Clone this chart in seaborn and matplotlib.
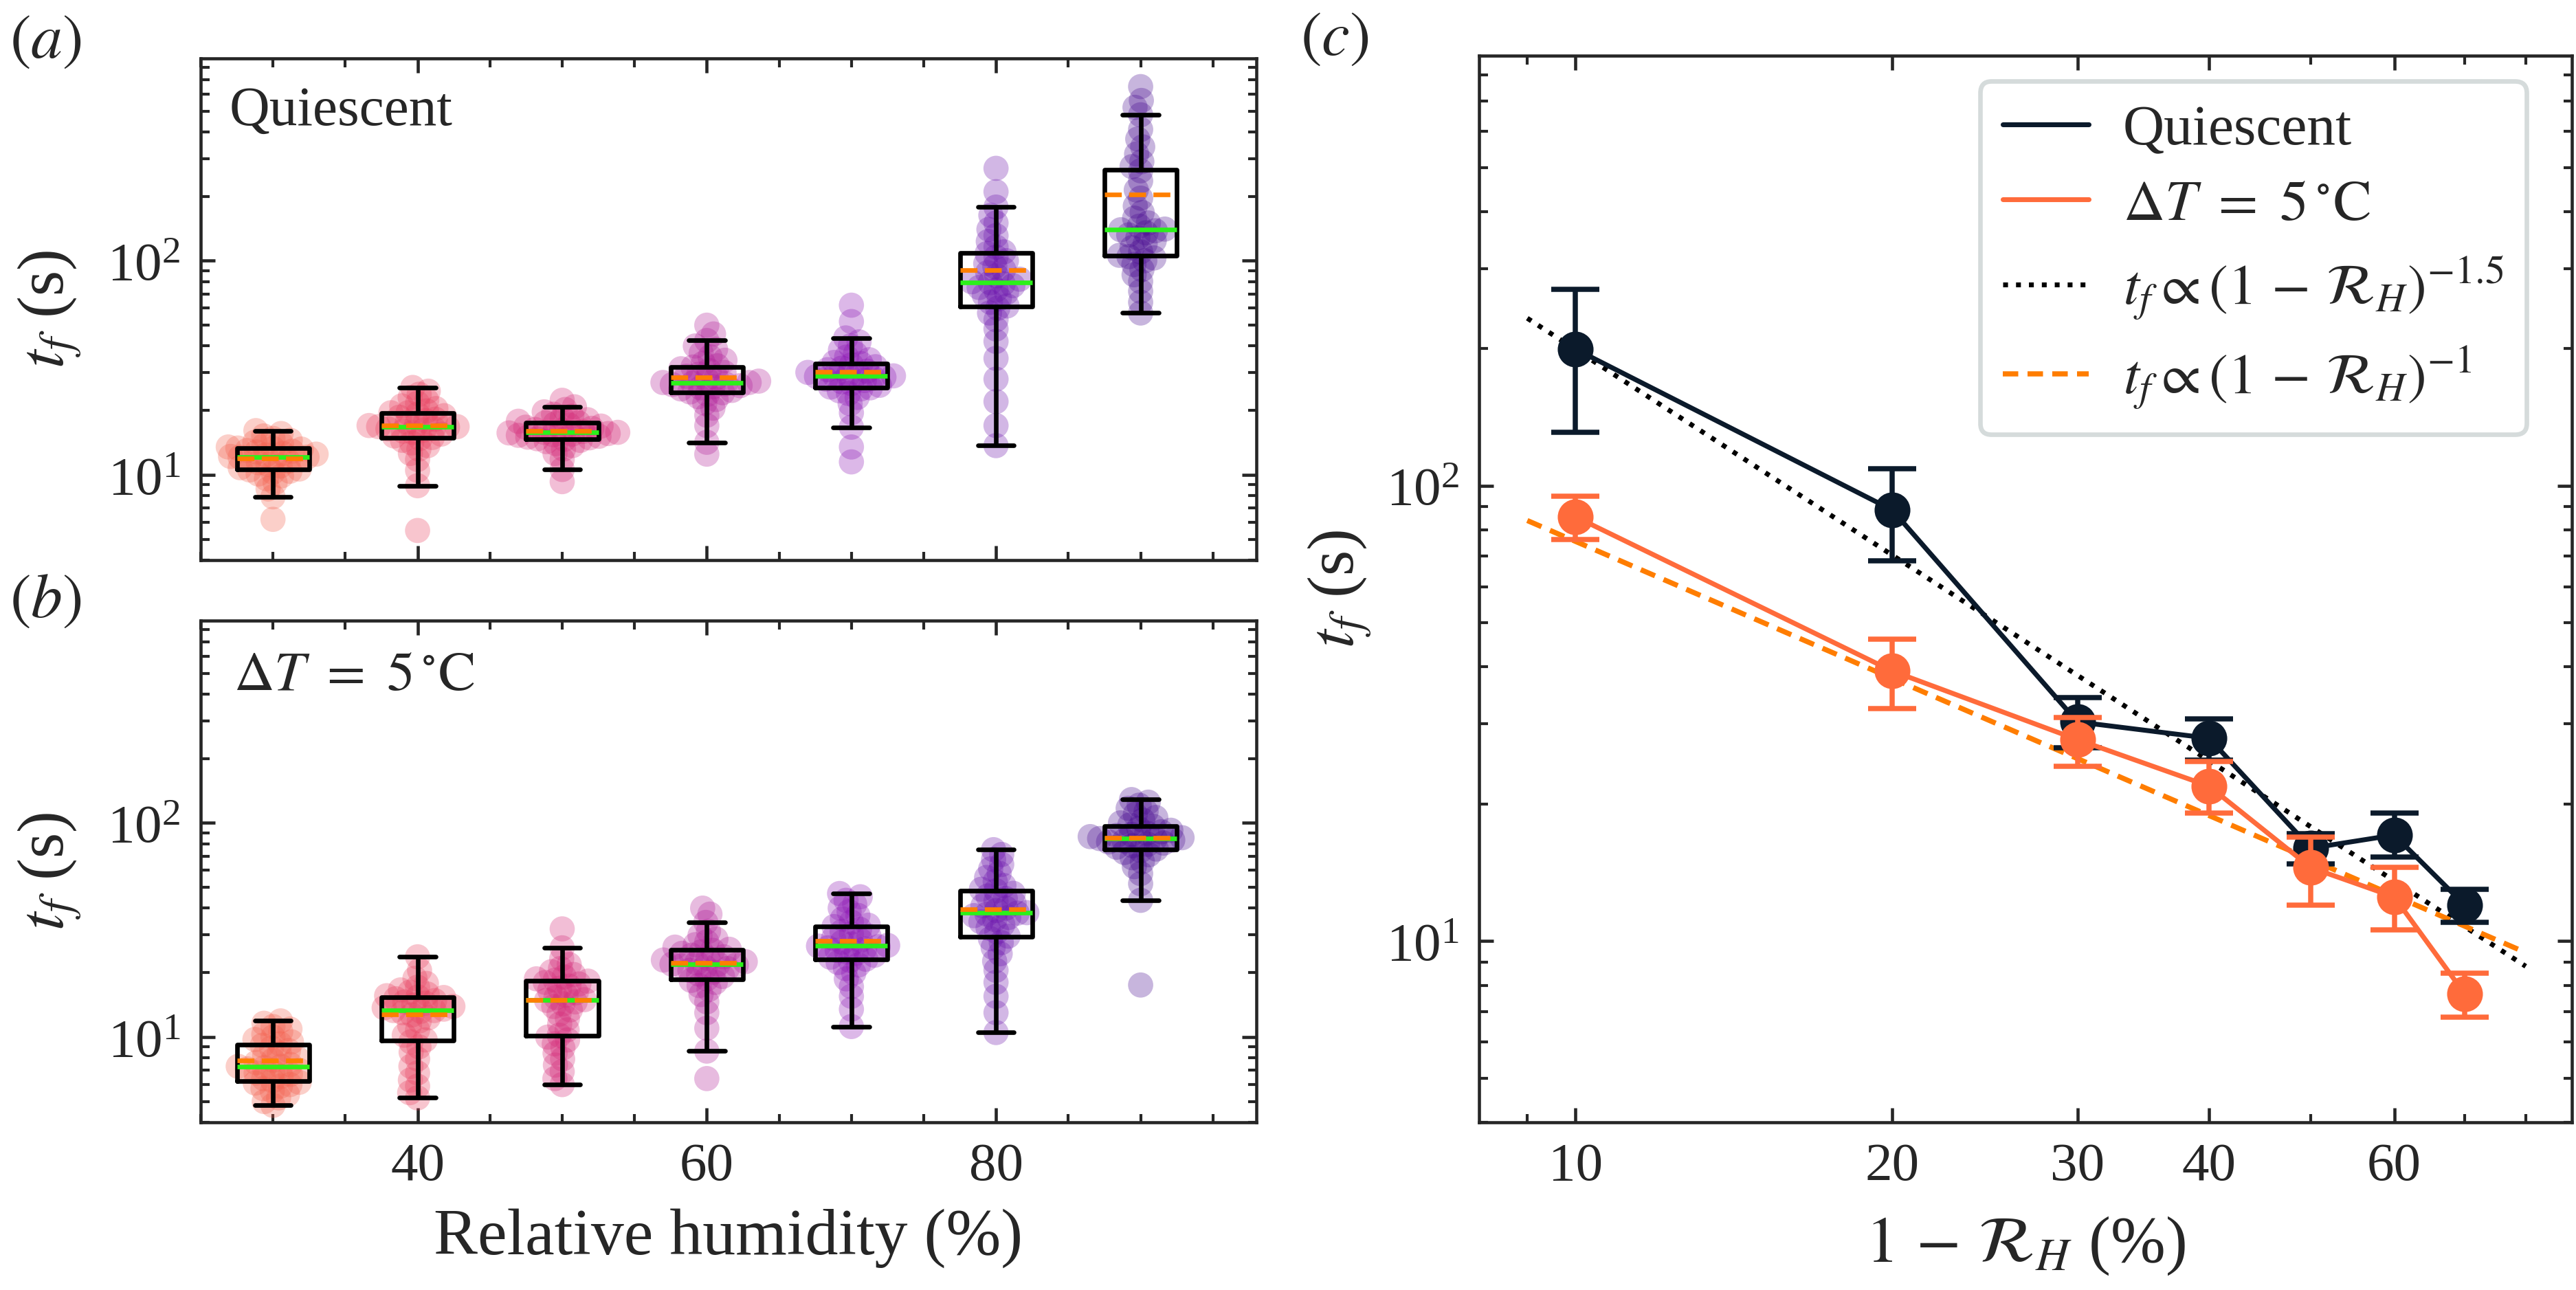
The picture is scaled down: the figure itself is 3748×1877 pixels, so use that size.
import numpy as np
import pandas as pd
import seaborn as sns
import matplotlib.pyplot as plt
from matplotlib.ticker import MultipleLocator, FixedLocator, FixedFormatter, NullFormatter

# relative humidity levels (%) of the box/swarm panels
rh = [30, 40, 50, 60, 70, 80, 90]

# panel (a): freezing time tf (s), quiescent
q30 = [6.2, 7.9, 8.6, 9.2, 9.6, 9.9, 10.1, 10.3, 10.4, 10.55, 10.65, 10.8, 11.0, 11.2, 11.4, 11.6, 11.8, 11.9, 12.0, 12.1,
       12.1, 12.2, 12.4, 12.5, 12.6, 12.8, 12.9, 13.0, 13.2, 13.3, 13.35, 13.5, 13.7, 13.9, 14.2, 14.5, 14.8, 15.2, 15.6, 16.1]
q40 = [5.5, 8.9, 10.5, 11.8, 12.6, 13.2, 13.7, 14.1, 14.5, 14.8, 14.95, 15.2, 15.5, 15.8, 16.0, 16.2, 16.4, 16.5, 16.7, 16.8,
       16.8, 17.0, 17.3, 17.6, 17.9, 18.2, 18.6, 18.9, 19.2, 19.5, 19.5, 19.9, 20.4, 21.0, 21.6, 22.3, 23.0, 23.8, 24.6, 25.6]
q50 = [9.3, 10.6, 11.8, 12.6, 13.2, 13.7, 14.0, 14.3, 14.5, 14.65, 14.75, 14.9, 15.0, 15.15, 15.3, 15.4, 15.5, 15.6, 15.7, 15.8,
       15.8, 15.95, 16.1, 16.3, 16.5, 16.7, 16.9, 17.1, 17.3, 17.5, 17.5, 17.8, 18.1, 18.4, 18.8, 19.2, 19.7, 20.2, 20.8, 22.3]
q60 = [12.5, 14.2, 17.0, 19.0, 20.5, 21.6, 22.5, 23.2, 23.8, 24.2, 24.4, 24.8, 25.2, 25.5, 25.8, 26.1, 26.4, 26.6, 26.8, 27.0,
       27.0, 27.4, 27.9, 28.4, 28.9, 29.5, 30.1, 30.7, 31.3, 31.9, 32.3, 33.2, 34.3, 35.6, 37.0, 38.6, 40.0, 42.4, 45.5, 50.0]
q70 = [11.5, 13.5, 16.7, 19.5, 21.5, 23.0, 24.0, 24.7, 25.2, 25.5, 25.7, 26.2, 26.7, 27.2, 27.6, 28.0, 28.3, 28.6, 28.8, 29.0,
       29.0, 29.3, 29.7, 30.1, 30.5, 31.0, 31.5, 32.0, 32.6, 33.1, 33.5, 34.5, 35.5, 36.8, 38.3, 40.0, 41.8, 43.6, 52.0, 62.0]
q80 = [13.7, 17.0, 22.0, 28.0, 35.0, 42.0, 48.0, 53.0, 57.0, 60.0, 61.5, 64.0, 66.5, 69.0, 71.0, 73.0, 75.0, 76.5, 78.0, 79.0,
       79.8, 82.0, 85.0, 88.0, 91.0, 94.0, 97.0, 100.0, 104.0, 108.0, 110.0, 116.0, 123.0, 131.0, 140.0, 150.0, 163.0, 178.0, 210.0, 270.0]
q90 = [57, 64, 72, 80, 86, 91, 96, 100, 103, 104.5, 106, 110, 115, 120, 124, 128, 132, 135, 138, 139.5,
       140.5, 145, 150, 158, 168, 180, 196, 214, 236, 263, 275, 290, 315, 340, 370, 410, 480, 520, 560, 650]

# panel (b): freezing time tf (s), delta T = 5 C
d30 = [4.8, 5.0, 5.2, 5.4, 5.6, 5.75, 5.9, 6.0, 6.1, 6.15, 6.25, 6.4, 6.55, 6.7, 6.8, 6.9, 7.0, 7.1, 7.2, 7.3,
       7.3, 7.45, 7.6, 7.8, 8.0, 8.2, 8.4, 8.65, 8.9, 9.15, 9.3, 9.5, 9.75, 10.0, 10.3, 10.6, 10.9, 11.2, 11.6, 11.9]
d40 = [5.2, 5.5, 5.9, 6.3, 6.8, 7.3, 7.9, 8.5, 9.0, 9.5, 9.7, 10.2, 10.8, 11.4, 11.9, 12.3, 12.7, 13.0, 13.2, 13.3,
       13.3, 13.5, 13.7, 13.9, 14.1, 14.4, 14.6, 14.8, 15.1, 15.3, 15.4, 15.6, 15.9, 16.2, 16.6, 17.1, 17.8, 18.8, 20.5, 23.7]
d50 = [6.0, 6.4, 6.9, 7.4, 7.9, 8.4, 8.9, 9.3, 9.7, 10.0, 10.2, 10.8, 11.5, 12.2, 12.8, 13.4, 13.9, 14.3, 14.6, 14.85,
       14.95, 15.3, 15.7, 16.1, 16.5, 16.9, 17.3, 17.7, 18.0, 18.25, 18.45, 18.7, 19.1, 19.6, 20.2, 20.9, 21.8, 23.2, 26.1, 32.0]
d60 = [6.4, 8.6, 11.0, 13.0, 14.6, 15.8, 16.7, 17.4, 18.0, 18.4, 18.7, 19.2, 19.7, 20.1, 20.5, 20.9, 21.2, 21.5, 21.7, 21.9,
       21.9, 22.2, 22.5, 22.9, 23.3, 23.7, 24.1, 24.6, 25.0, 25.4, 25.7, 26.3, 27.0, 27.8, 28.7, 29.8, 31.2, 34.3, 37.5, 40.0]
d70 = [11.2, 13.5, 15.5, 17.2, 18.7, 19.9, 20.9, 21.7, 22.3, 22.8, 23.1, 23.6, 24.1, 24.6, 25.0, 25.4, 25.8, 26.1, 26.4, 26.6,
       26.8, 27.2, 27.7, 28.3, 28.9, 29.6, 30.3, 31.1, 31.9, 32.8, 33.3, 34.4, 35.6, 37.0, 38.5, 40.0, 41.7, 43.5, 45.2, 46.8]
d80 = [10.5, 13.0, 15.5, 18.0, 20.5, 22.6, 24.5, 26.2, 27.6, 28.8, 29.6, 31.0, 32.3, 33.5, 34.5, 35.4, 36.2, 36.9, 37.5, 37.9,
       38.1, 39.0, 40.0, 41.0, 42.1, 43.2, 44.4, 45.6, 46.9, 48.2, 49.0, 51.0, 53.2, 55.6, 58.2, 61.0, 64.0, 67.5, 71.2, 75.0]
d90 = [17.5, 43.5, 52.0, 58.0, 62.5, 66.0, 68.8, 71.0, 72.8, 74.3, 75.5, 77.0, 78.3, 79.5, 80.5, 81.5, 82.4, 83.2, 83.9, 84.3,
       84.5, 85.3, 86.3, 87.3, 88.4, 89.6, 90.9, 92.4, 94.2, 96.4, 97.8, 100.0, 103.0, 106.0, 109.5, 113.0, 117.0, 121.0, 125.0, 128.5]

# panel (c): mean tf against 1 - RH, with error bar ends
one_minus_rh = [10, 20, 30, 40, 50, 60, 70]
quies_mean = [199.6, 88.5, 30.3, 27.9, 16.0, 17.1, 12.0]
quies_lo = [131.0, 68.5, 26.6, 25.0, 14.8, 15.3, 11.0]
quies_hi = [270.0, 109.0, 34.3, 30.8, 17.2, 19.1, 13.0]
dt_mean = [85.5, 39.2, 27.7, 21.9, 14.5, 12.5, 7.66]
dt_lo = [76.2, 32.4, 24.2, 19.1, 12.0, 10.6, 6.8]
dt_hi = [94.9, 46.1, 31.0, 24.8, 16.9, 14.5, 8.5]

# power-law guide lines
fit_x = [9.0, 80.0]
coef_15 = 6300.0
coef_1 = 755.0

rh_colors = ['#f4604e', '#e8405f', '#d42a78', '#b01e98', '#8c16b4', '#6a12ac', '#470a90']
navy = '#0b1a2b'
coral = '#ff6b3b'
fit_orange = '#ff7d00'
median_green = '#2cf01a'
mean_orange = '#ff7f00'

sns.set_style('ticks')
plt.rcParams['font.family'] = ['Liberation Serif', 'DejaVu Serif']
plt.rcParams['mathtext.fontset'] = 'stix'
plt.rcParams['axes.linewidth'] = 1.1

fig = plt.figure(figsize=(3748 / 300, 1877 / 300), dpi=300)
ax_a = fig.add_axes([0.0779, 0.5658, 0.4098, 0.3889])
ax_b = fig.add_axes([0.0779, 0.1300, 0.4098, 0.3889])
ax_c = fig.add_axes([0.5742, 0.1300, 0.4242, 0.8268])

palette = dict(zip(rh, rh_colors))
swarm_size = 3.2   # size used to lay out the swarm
dot_size = 8.8     # size the dots are drawn with (they overlap)
dt_label = r'$\Delta T\ =\ 5\,^{\circ}\mathrm{C}$'


def long_df(groups):
    rows = []
    for level, vals in zip(rh, groups):
        rows += [(level, v) for v in vals]
    return pd.DataFrame(rows, columns=['rh', 'tf'])


def box_swarm(ax, df):
    sns.boxplot(data=df, x='rh', y='tf', native_scale=True, width=0.5, fill=False,
                color='black', linewidth=1.6, whis=1.5, showfliers=False,
                showmeans=True, meanline=True,
                medianprops=dict(color=median_green, linewidth=1.6),
                meanprops=dict(color=mean_orange, linestyle='--', linewidth=1.6),
                zorder=3, ax=ax)
    sns.swarmplot(data=df, x='rh', y='tf', hue='rh', palette=palette, native_scale=True,
                  size=swarm_size, alpha=0.3, linewidth=0, legend=False, zorder=1,
                  warn_thresh=1, ax=ax)
    ax.set_yscale('log')
    ax.set_ylim(4, 880)
    ax.set_xlim(25, 98)
    ax.xaxis.set_major_locator(MultipleLocator(20))
    ax.xaxis.set_minor_locator(MultipleLocator(5))
    ax.set_xlabel('')
    ax.set_ylabel(r'$t_f$ (s)', fontsize=23)
    ax.yaxis.set_label_coords(-0.111, 0.5)


box_swarm(ax_a, long_df([q30, q40, q50, q60, q70, q80, q90]))
box_swarm(ax_b, long_df([d30, d40, d50, d60, d70, d80, d90]))
ax_a.tick_params(axis='x', labelbottom=False)
ax_b.set_xlabel('Relative humidity (%)', fontsize=23, labelpad=6)

ax_a.text(0.027, 0.867, 'Quiescent', transform=ax_a.transAxes, fontsize=19.5, va='baseline')
ax_b.text(0.031, 0.862, dt_label, transform=ax_b.transAxes, fontsize=19.5, va='baseline')

# panel (c)
ax_c.set_xscale('log')
ax_c.set_yscale('log')
fx = np.array(fit_x)
l15, = ax_c.plot(fx, coef_15 * fx ** -1.5, ls=':', color='black', lw=1.7, zorder=1)
l1, = ax_c.plot(fx, coef_1 / fx, ls='--', dashes=(3, 1.8), color=fit_orange, lw=1.8, zorder=1)

sns.lineplot(x=one_minus_rh, y=quies_mean, color=navy, lw=1.7, ax=ax_c, zorder=3)
sns.lineplot(x=one_minus_rh, y=dt_mean, color=coral, lw=1.7, ax=ax_c, zorder=4)
qm = np.array(quies_mean)
dm = np.array(dt_mean)
ax_c.errorbar(one_minus_rh, qm, yerr=[qm - np.array(quies_lo), np.array(quies_hi) - qm], fmt='o',
              ms=11.5, color=navy, capsize=8.5, elinewidth=1.8, capthick=1.8, zorder=3)
ax_c.errorbar(one_minus_rh, dm, yerr=[dm - np.array(dt_lo), np.array(dt_hi) - dm], fmt='o',
              ms=11.5, color=coral, capsize=8.5, elinewidth=1.8, capthick=1.8, zorder=4)

ax_c.set_xlim(8.1, 88.5)
ax_c.set_ylim(4, 880)
ax_c.xaxis.set_major_locator(FixedLocator([10, 20, 30, 40, 60]))
ax_c.xaxis.set_major_formatter(FixedFormatter(['10', '20', '30', '40', '60']))
ax_c.xaxis.set_minor_locator(FixedLocator([9, 50, 70, 80]))
ax_c.xaxis.set_minor_formatter(NullFormatter())
ax_c.set_xlabel(r'$1\,-\,\mathcal{R}_H$ (%)', fontsize=23, labelpad=8)
ax_c.set_ylabel(r'$t_f$ (s)', fontsize=23)
ax_c.yaxis.set_label_coords(-0.097, 0.5)

h_q = plt.Line2D([], [], color=navy, lw=1.7)
h_d = plt.Line2D([], [], color=coral, lw=1.7)
leg = ax_c.legend([h_q, h_d, l15, l1],
                  ['Quiescent', dt_label,
                   r'$t_f \propto (1\,-\,\mathcal{R}_H)^{-1.5}$', r'$t_f \propto (1\,-\,\mathcal{R}_H)^{-1}$'],
                  loc='upper right', bbox_to_anchor=(0.9585, 0.976), borderaxespad=0,
                  fontsize=20, handlelength=1.5, handletextpad=0.6, labelspacing=0.4,
                  frameon=True, fancybox=True, framealpha=1, edgecolor='#d5dbdb')
leg.get_frame().set_linewidth(1.6)

for ax in (ax_a, ax_b, ax_c):
    ax.tick_params(which='both', direction='in', top=True, right=True, labelsize=19, pad=7)
    ax.tick_params(which='major', length=5, width=1.1)
    ax.tick_params(which='minor', length=3, width=1.0)

fig.text(66 / 3748, 1 - 62 / 1877, r'$(a)$', ha='center', va='center', fontsize=22)
fig.text(66 / 3748, 1 - 876 / 1877, r'$(b)$', ha='center', va='center', fontsize=22)
fig.text(1942 / 3748, 1 - 58 / 1877, r'$(c)$', ha='center', va='center', fontsize=22)

# lay out the swarms at the small size, then draw the dots bigger so they overlap
fig.canvas.draw()
for ax in (ax_a, ax_b):
    for coll in ax.collections:
        if 'draw' in vars(coll):
            del coll.draw
            coll.set_sizes([dot_size ** 2])

fig.savefig('out.png', dpi=300)
